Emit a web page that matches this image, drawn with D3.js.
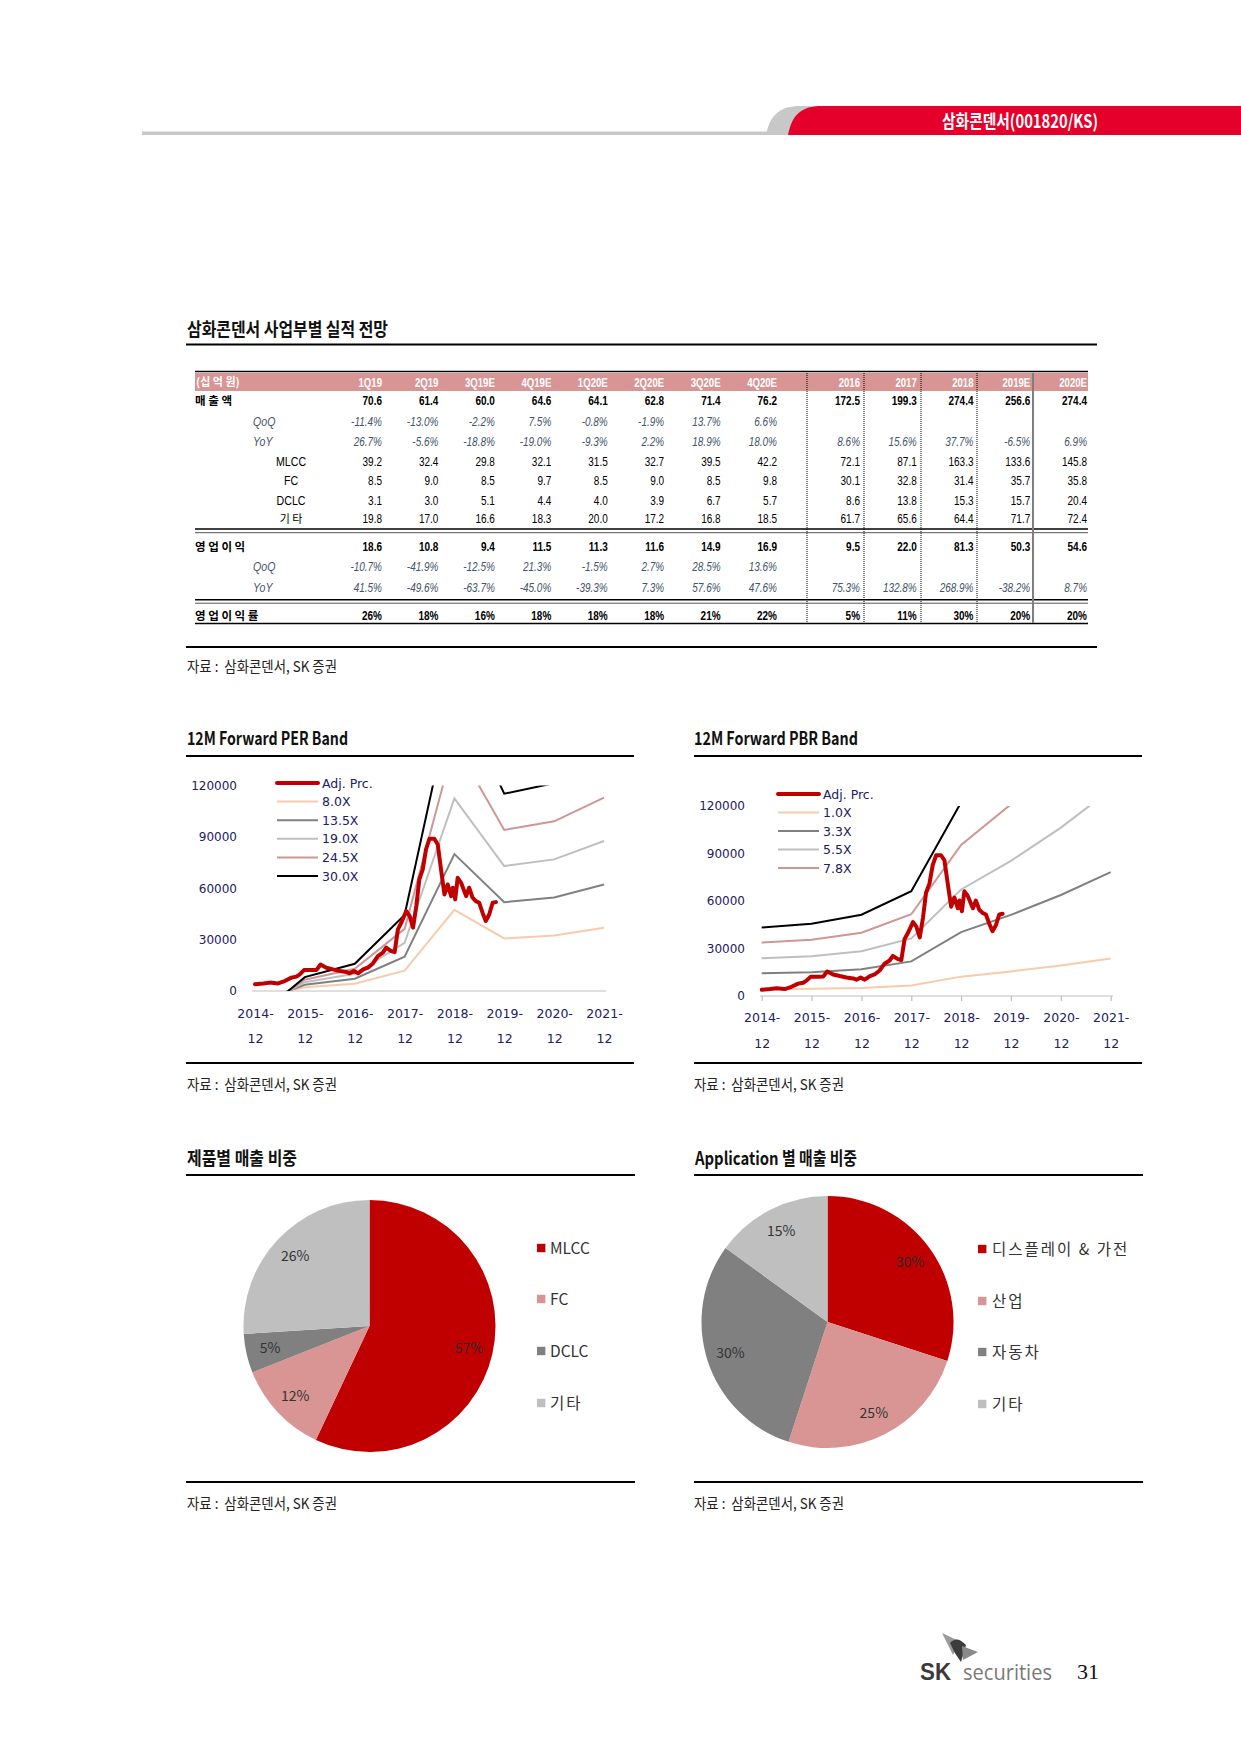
<!DOCTYPE html>
<html><head><meta charset="utf-8">
<script src="https://cdn.jsdelivr.net/npm/d3@7"></script>
<style>body{margin:0;background:#fff}svg{display:block}text{white-space:pre}</style>
</head><body><svg id="page" width="1241" height="1754"></svg>
<script>
// ---------- DATA ----------
const quarterCols = ["1Q19","2Q19","3Q19E","4Q19E","1Q20E","2Q20E","3Q20E","4Q20E"];
const yearCols = ["2016","2017","2018","2019E","2020E"];
const sales    = [70.6,61.4,60.0,64.6,64.1,62.8,71.4,76.2,172.5,199.3,274.4,256.6,274.4];
const salesQoQ = ["-11.4%","-13.0%","-2.2%","7.5%","-0.8%","-1.9%","13.7%","6.6%","","","","",""];
const salesYoY = ["26.7%","-5.6%","-18.8%","-19.0%","-9.3%","2.2%","18.9%","18.0%","8.6%","15.6%","37.7%","-6.5%","6.9%"];
const mlcc     = [39.2,32.4,29.8,32.1,31.5,32.7,39.5,42.2,72.1,87.1,163.3,133.6,145.8];
const fc       = [8.5,9.0,8.5,9.7,8.5,9.0,8.5,9.8,30.1,32.8,31.4,35.7,35.8];
const dclc     = [3.1,3.0,5.1,4.4,4.0,3.9,6.7,5.7,8.6,13.8,15.3,15.7,20.4];
const etc      = [19.8,17.0,16.6,18.3,20.0,17.2,16.8,18.5,61.7,65.6,64.4,71.7,72.4];
const opProfit = [18.6,10.8,9.4,11.5,11.3,11.6,14.9,16.9,9.5,22.0,81.3,50.3,54.6];
const opQoQ    = ["-10.7%","-41.9%","-12.5%","21.3%","-1.5%","2.7%","28.5%","13.6%","","","","",""];
const opYoY    = ["41.5%","-49.6%","-63.7%","-45.0%","-39.3%","7.3%","57.6%","47.6%","75.3%","132.8%","268.9%","-38.2%","8.7%"];
const opMargin = ["26%","18%","16%","18%","18%","18%","21%","22%","5%","11%","30%","20%","20%"];

const bandDates = ["2014-12-01","2015-12-01","2016-12-01","2017-12-01","2018-12-01","2019-12-01","2020-12-01","2021-12-01"];
const perNames = ["8.0X","13.5X","19.0X","24.5X","30.0X"];
const per8  = [-4320,2160,4240,11840,47360,30720,32360,36880];
const per13 = [-7290,3645,7155,19980,79920,51840,54610,62240];
const per19 = [-10260,5130,10070,28120,112480,72960,76860,87590];
const per24 = [-13230,6615,12985,36260,145040,94080,99100,112950];
const per30 = [-16200,8100,15900,44400,177600,115200,121350,138300];
const pbrNames = ["1.0X","3.3X","5.5X","7.8X","10.0X"];
const pbr1  = [4330,4560,5130,6620,12230,15520,19330,23700];
const pbr3  = [14290,15050,16930,21850,40360,51220,63790,78210];
const pbr5  = [23820,25080,28220,36410,67270,85360,106320,130350];
const pbr7  = [33770,35570,40010,51640,95390,121060,150770,184860];
const pbr10 = [43300,45600,51300,66200,122300,155200,193300,237000];
const yTicks = [0,30000,60000,90000,120000];

const priceDates = ["2014-12-01","2015-02-01","2015-03-19","2015-05-19","2015-07-07","2015-08-25","2015-10-01","2015-10-25","2015-11-25","2016-01-19","2016-02-25","2016-03-25","2016-05-07","2016-06-25","2016-08-13","2016-10-01","2016-10-25","2016-11-25","2016-12-25","2017-02-01","2017-03-07","2017-04-13","2017-05-19","2017-06-25","2017-07-19","2017-08-25","2017-09-19","2017-10-13","2017-11-07","2017-12-13","2018-01-07","2018-02-01","2018-02-25","2018-03-19","2018-04-13","2018-05-07","2018-06-01","2018-07-07","2018-08-01","2018-08-25","2018-09-19","2018-10-13","2018-11-07","2018-11-19","2018-12-07","2018-12-25","2019-01-19","2019-02-25","2019-03-19","2019-04-13","2019-05-07","2019-06-01","2019-06-25","2019-07-19","2019-08-13","2019-09-07","2019-10-01"];
const priceValues = [3900,4400,4900,4400,5800,7800,8400,9700,12200,12200,12300,15500,13600,12600,11700,11100,10300,11700,10300,12600,13600,16100,20400,22400,25300,23300,22700,36000,39900,46700,43800,37000,49600,65200,71000,82700,88900,88900,85600,71000,56400,62200,55400,60300,53500,66100,63200,55400,60300,54500,52500,51500,45700,40900,44700,51500,51900];

const productLabels = ["MLCC","FC","DCLC","기타"];
const productShares = [57,12,5,26];
const appLabels = ["디스플레이 & 가전","산업","자동차","기타"];
const appShares = [30,25,30,15];

// ---------- STYLE ----------
const KR = "'Noto Sans CJK KR','Noto Sans',sans-serif";
const LIB = "'Liberation Sans',Arial,sans-serif";
const AX = "'DejaVu Sans',Verdana,sans-serif";
const NAVY = "#202063";
const RED = "#c00000", PINK = "#d99594", DGRAY = "#808080", LGRAY = "#bfbfbf", PEACH = "#f8cbad";

const svg = d3.select("#page");
svg.append("rect").attr("width",1241).attr("height",1754).attr("fill","#fff");
const defs = svg.append("defs");

// ---------- PAGE HEADER ----------
svg.append("line").attr("x1",142).attr("x2",790).attr("y1",133.3).attr("y2",133.3).attr("stroke","#c8c8c8").attr("stroke-width",3.4);
svg.append("path").attr("d","M766,135 C770,114 781,106 800,106 L1241,106 L1241,135 Z").attr("fill","#c8c8c8");
svg.append("path").attr("d","M788,135 C792,114 802,106 822,106 L1241,106 L1241,135 Z").attr("fill","#e5002b");
svg.append("text").attr("x",1020).attr("y",127.5).attr("text-anchor","middle").attr("fill","#fff")
  .attr("font-family",KR).attr("font-weight",700).attr("font-size",18)
  .attr("textLength",156).attr("lengthAdjust","spacingAndGlyphs").text("삼화콘덴서(001820/KS)");

function title(x, y, txt, len) {
  svg.append("text").attr("x",x).attr("y",y).attr("font-family",KR).attr("font-weight",700)
    .attr("font-size",18).attr("fill","#111").attr("textLength",len).attr("lengthAdjust","spacingAndGlyphs").text(txt);
}
function hline(x1, x2, y, w, c) {
  svg.append("line").attr("x1",x1).attr("x2",x2).attr("y1",y).attr("y2",y).attr("stroke",c||"#000").attr("stroke-width",w);
}
function source(x, y) {
  svg.append("text").attr("x",x).attr("y",y).attr("font-family",KR).attr("font-size",15).attr("fill","#222")
    .attr("textLength",150).attr("lengthAdjust","spacingAndGlyphs").text("자료 :  삼화콘덴서, SK 증권");
}

// ---------- TABLE ----------
title(187, 336, "삼화콘덴서 사업부별 실적 전망", 201);
hline(186, 1097, 344.5, 2);

const colX = d3.scaleLinear().domain([0,7]).range([382,777]);
const yearX = d3.scaleLinear().domain([0,4]).range([860,1087]);
const cx = k => k < 8 ? colX(k) : yearX(k-8);

svg.append("rect").attr("x",195).attr("y",373).attr("width",893).attr("height",18).attr("fill","#d99594");
hline(195, 1088, 371.5, 1.5);

function num(x, y, str, o) {
  svg.append("text").attr("transform",`translate(${x},${y}) scale(0.8,1)`).attr("text-anchor","end")
    .attr("font-family",LIB).attr("font-size",o.size||12.5).attr("font-weight",o.bold?700:400)
    .attr("font-style",o.italic?"italic":"normal").attr("fill",o.fill||"#000").text(str);
}
svg.append("text").attr("x",196).attr("y",386).attr("font-family",KR).attr("font-weight",700).attr("font-size",11)
  .attr("fill","#fff").text("(십 억 원)");
quarterCols.concat(yearCols).forEach((c,k) => num(cx(k), 386.5, c, {bold:true, fill:"#fff", size:12}));

const BLUE = "#44546a";
const rows = [
  {label:"매 출 액", kind:"kr-bold", vals:sales.map(v=>v.toFixed(1)), style:{bold:true}, y:405},
  {label:"QoQ", kind:"it", vals:salesQoQ, style:{italic:true, fill:BLUE}, y:426},
  {label:"YoY", kind:"it", vals:salesYoY, style:{italic:true, fill:BLUE}, y:445.5},
  {label:"MLCC", kind:"sub", vals:mlcc.map(v=>v.toFixed(1)), style:{}, y:465.5},
  {label:"FC", kind:"sub", vals:fc.map(v=>v.toFixed(1)), style:{}, y:485},
  {label:"DCLC", kind:"sub", vals:dclc.map(v=>v.toFixed(1)), style:{}, y:504.5},
  {label:"기 타", kind:"subkr", vals:etc.map(v=>v.toFixed(1)), style:{}, y:523},
  {label:"영 업 이 익", kind:"kr-bold", vals:opProfit.map(v=>v.toFixed(1)), style:{bold:true}, y:551},
  {label:"QoQ", kind:"it", vals:opQoQ, style:{italic:true, fill:BLUE}, y:571},
  {label:"YoY", kind:"it", vals:opYoY, style:{italic:true, fill:BLUE}, y:591.5},
  {label:"영 업 이 익 률", kind:"kr-bold", vals:opMargin, style:{bold:true}, y:619.5}
];
rows.forEach(r => {
  if (r.kind === "kr-bold") {
    svg.append("text").attr("x",195).attr("y",r.y).attr("font-family",KR).attr("font-weight",700)
      .attr("font-size",11.5).attr("fill","#000").text(r.label);
  } else if (r.kind === "it") {
    svg.append("text").attr("transform",`translate(253,${r.y}) scale(0.85,1)`).attr("font-family",LIB)
      .attr("font-style","italic").attr("font-size",12.5).attr("fill",BLUE).text(r.label);
  } else if (r.kind === "sub") {
    svg.append("text").attr("transform",`translate(291,${r.y}) scale(0.85,1)`).attr("text-anchor","middle")
      .attr("font-family",LIB).attr("font-size",12.5).attr("fill","#000").text(r.label);
  } else {
    svg.append("text").attr("x",291).attr("y",r.y).attr("text-anchor","middle").attr("font-family",KR)
      .attr("font-size",11).attr("fill","#000").text(r.label);
  }
  r.vals.forEach((v,k) => { if (v !== "") num(cx(k), r.y, v, r.style); });
});
hline(195, 1088, 529, 1.5);
hline(195, 1088, 532.7, 1, "#555");
hline(195, 1088, 599.7, 1.5);
hline(195, 1088, 603.2, 1, "#555");
hline(195, 1088, 623.5, 1.5);
[807,864,921,977].forEach(x => svg.append("line").attr("x1",x).attr("x2",x).attr("y1",373).attr("y2",623)
  .attr("stroke","#000").attr("stroke-width",1).attr("stroke-dasharray","1,1"));
svg.append("line").attr("x1",1033).attr("x2",1033).attr("y1",373).attr("y2",623).attr("stroke","#7f7f7f").attr("stroke-width",2);

hline(186, 1097, 647, 2);
source(187, 672);

// ---------- BAND CHARTS ----------
const parse = d3.timeParse("%Y-%m-%d");
const priceSeries = priceDates.map((d,i) => ({date:parse(d), v:priceValues[i]}));

function bandChart(o) {
  const g = svg.append("g");
  const x = d3.scaleTime().domain([parse(bandDates[0]), parse(bandDates[bandDates.length-1])]).range([o.x0, o.x1]);
  const y = d3.scaleLinear().domain([0,120000]).range([o.y0, o.yTop]);
  defs.append("clipPath").attr("id",o.id).append("rect")
    .attr("x",o.ax0).attr("y",y(120000)).attr("width",o.ax1-o.ax0).attr("height",y(0)-y(120000));

  g.append("line").attr("x1",o.ax0).attr("x2",o.ax1).attr("y1",o.y0).attr("y2",o.y0).attr("stroke","#bfbfbf").attr("stroke-width",1.2);
  const gx = g.append("g").attr("transform",`translate(0,${o.y0})`)
    .call(d3.axisBottom(x).tickValues(bandDates.map(parse)).tickSize(o.tick).tickFormat(d3.timeFormat("%Y")));
  gx.select(".domain").remove();
  gx.selectAll(".tick line").attr("stroke","#bfbfbf").attr("stroke-width",1.2);
  gx.attr("font-family",AX).attr("font-size",12.5).attr("color",NAVY);
  gx.selectAll(".tick text").each(function(d){
    const t = d3.select(this); t.text(null).attr("y",null).attr("dy",null);
    t.append("tspan").attr("x",0).attr("y",o.lab1).text(d3.timeFormat("%Y")(d) + "-");
    t.append("tspan").attr("x",0).attr("y",o.lab2).text(d3.timeFormat("%m")(d));
  });
  const gy = g.append("g").attr("transform",`translate(${o.ax0},0)`)
    .call(d3.axisLeft(y).tickValues(yTicks).tickSize(0).tickPadding(15).tickFormat(d3.format("d")));
  gy.select(".domain").remove();
  gy.attr("font-family",AX).attr("font-size",12).attr("color",NAVY);

  const line = d3.line().x(d => x(d.date)).y(d => y(d.v));
  const plot = g.append("g").attr("clip-path",`url(#${o.id})`);
  o.bands.forEach((b,i) => {
    plot.append("path").datum(b.vals.map((v,j) => ({date:parse(bandDates[j]), v})))
      .attr("d",line).attr("fill","none").attr("stroke",b.color).attr("stroke-width",2);
  });
  plot.append("path").datum(priceSeries).attr("d",line).attr("fill","none")
    .attr("stroke",RED).attr("stroke-width",4).attr("stroke-linejoin","round").attr("stroke-linecap","round");

  const leg = [{name:"Adj. Prc.", color:RED, w:4}].concat(o.bands.filter(b => b.legend).map(b => ({name:b.name, color:b.color, w:2})));
  leg.forEach((l,i) => {
    const yy = o.ly + i*o.lstep;
    g.append("line").attr("x1",o.lx0).attr("x2",o.lx1).attr("y1",yy).attr("y2",yy).attr("stroke",l.color).attr("stroke-width",l.w)
      .attr("stroke-linecap", l.w>2?"round":"butt");
    g.append("text").attr("x",o.lx1+4).attr("y",yy+4.5).attr("font-family",AX).attr("font-size",12.5).attr("fill",NAVY).text(l.name);
  });
}

title(187, 745, "12M Forward PER Band", 161);
hline(186, 634, 756, 2);
bandChart({id:"perclip", x0:255, x1:604, ax0:252, ax1:606, y0:991, yTop:785.5, tick:0, lab1:27, lab2:52,
  lx0:277, lx1:318, ly:783, lstep:18.6,
  bands:[{name:perNames[0], vals:per8, color:PEACH, legend:true},
         {name:perNames[1], vals:per13, color:DGRAY, legend:true},
         {name:perNames[2], vals:per19, color:LGRAY, legend:true},
         {name:perNames[3], vals:per24, color:"#d09595", legend:true},
         {name:perNames[4], vals:per30, color:"#000", legend:true}]});
hline(186, 634, 1063, 2);
source(187, 1090);

title(694, 745, "12M Forward PBR Band", 164);
hline(694, 1142, 756, 2);
bandChart({id:"pbrclip", x0:761.7, x1:1110.7, ax0:760, ax1:1113, y0:996, yTop:806, tick:5, lab1:26, lab2:52,
  lx0:778, lx1:819, ly:794, lstep:18.5,
  bands:[{name:pbrNames[0], vals:pbr1, color:PEACH, legend:true},
         {name:pbrNames[1], vals:pbr3, color:DGRAY, legend:true},
         {name:pbrNames[2], vals:pbr5, color:LGRAY, legend:true},
         {name:pbrNames[3], vals:pbr7, color:"#d09595", legend:true},
         {name:pbrNames[4], vals:pbr10, color:"#000", legend:false}]});
hline(694, 1142, 1063, 2);
source(694, 1090);

// ---------- PIES ----------
const pieColors = [RED, PINK, DGRAY, LGRAY];
const hasHangul = s => /[\uac00-\ud7a3]/.test(s);
function pieChart(o) {
  const g = svg.append("g").attr("transform",`translate(${o.cx},${o.cy})`);
  const arcs = d3.pie().sort(null).value(d => d)(o.vals);
  const arc = d3.arc().innerRadius(0).outerRadius(126);
  const labArc = d3.arc().innerRadius(102).outerRadius(102);
  g.selectAll("path.s").data(arcs).enter().append("path").attr("d",arc).attr("fill",(d,i) => pieColors[i]);
  g.selectAll("text.l").data(arcs).enter().append("text")
    .attr("transform",d => `translate(${labArc.centroid(d)})`).attr("text-anchor","middle").attr("dy","0.35em")
    .attr("font-family",KR).attr("font-size",14).attr("fill",(d,i) => i === 0 ? "#2a2a2a" : "#333").text(d => d.data + "%");
  o.labels.forEach((l,i) => {
    const yy = o.ly[i];
    svg.append("rect").attr("x",o.sx).attr("y",yy-4.2).attr("width",8.4).attr("height",8.4).attr("fill",pieColors[i]);
    svg.append("text").attr("x",o.tx).attr("y",yy+5.5).attr("font-family",KR).attr("font-size",15.5).attr("fill","#333")
      .attr("letter-spacing", hasHangul(l) ? 2 : 0).text(l);
  });
}
title(187, 1165, "제품별 매출 비중", 110);
hline(186, 635, 1175, 2);
pieChart({cx:369.5, cy:1326, vals:productShares, labels:productLabels, sx:537, tx:550, ly:[1248,1299,1351,1403]});
hline(186, 635, 1482, 2);
source(187, 1509);

title(695, 1165, "Application 별 매출 비중", 162);
hline(694, 1143, 1175, 2);
pieChart({cx:827.5, cy:1322, vals:appShares, labels:appLabels, sx:978, tx:992, ly:[1249,1301,1352,1404]});
hline(694, 1143, 1482, 2);
source(694, 1509);

// ---------- FOOTER ----------
svg.append("path").attr("d","M942,1633 L959,1641 L953,1655 Z").attr("fill","#9a9a9a");
svg.append("path").attr("d","M950,1643 Q957,1635 966,1645 L961,1662 Q954,1653 950,1643 Z").attr("fill","#3c3c3c");
svg.append("path").attr("d","M962,1646 L978,1652 L963,1660 Z").attr("fill","#8a8a8a");
svg.append("text").attr("x",920).attr("y",1680).attr("font-family",LIB).attr("font-weight",700).attr("font-size",23)
  .attr("fill","#3a3a3a").attr("textLength",31).attr("lengthAdjust","spacingAndGlyphs").text("SK");
svg.append("text").attr("x",963).attr("y",1680).attr("font-family","'Open Sans',sans-serif").attr("font-size",21)
  .attr("fill","#7a7a7a").attr("textLength",89).attr("lengthAdjust","spacingAndGlyphs").text("securities");
svg.append("text").attr("x",1077).attr("y",1679).attr("font-family","'Liberation Serif',serif").attr("font-size",22)
  .attr("fill","#111").text("31");
</script></body></html>
